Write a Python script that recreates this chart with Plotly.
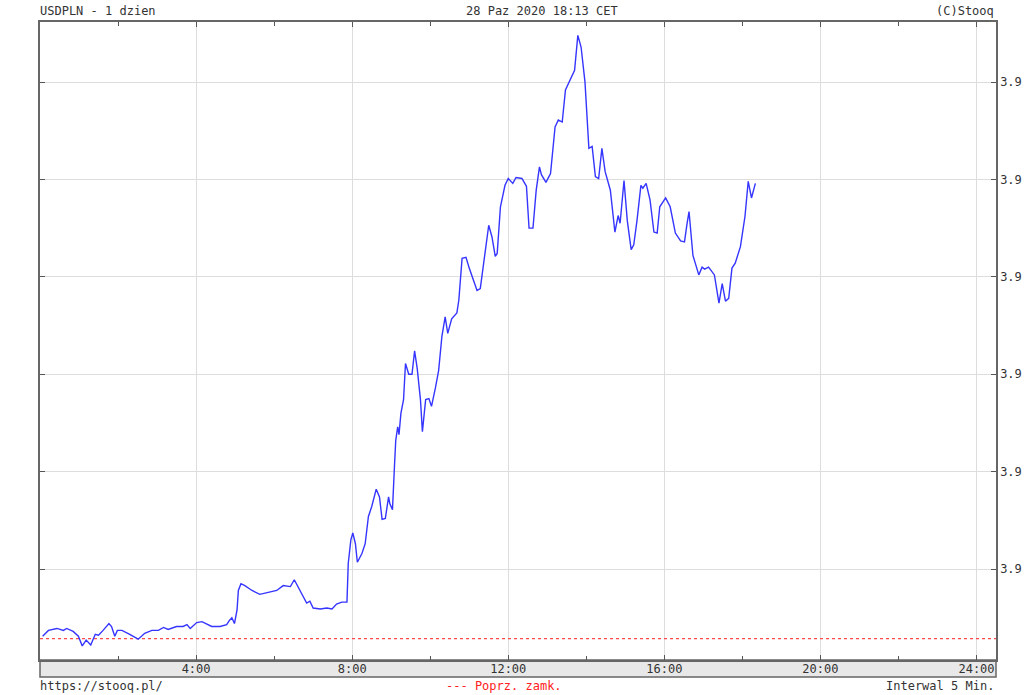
import plotly.graph_objects as go

# ---- data ----
times = ["0:04","0:13","0:26","0:36","0:41","0:51","0:59","1:05","1:11","1:18",
         "1:25","1:30","1:37","1:46","1:50","1:55","1:59","2:06","2:18","2:31",
         "2:41","2:52","3:02","3:10","3:17","3:30","3:40","3:46","3:51","4:01",
         "4:09","4:16","4:24","4:37","4:47","4:51","4:55","4:59","5:03","5:05",
         "5:09","5:15","5:26","5:38","5:49","6:04","6:14","6:25","6:31","6:40",
         "6:50","6:55","7:00","7:11","7:21","7:29","7:36","7:44","7:52","7:54",
         "7:58","8:01","8:05","8:08","8:15","8:20","8:25","8:30","8:37","8:42",
         "8:46","8:51","8:56","8:58","9:02","9:05","9:07","9:10","9:12","9:15",
         "9:19","9:22","9:27","9:32","9:36","9:40","9:45","9:48","9:53","9:58",
         "10:02","10:08","10:13","10:18","10:23","10:27","10:33","10:41","10:44","10:49",
         "10:55","11:00","11:08","11:12","11:17","11:25","11:30","11:35","11:40","11:43",
         "11:48","11:55","12:00","12:07","12:12","12:21","12:28","12:32","12:38","12:43",
         "12:48","12:51","12:58","13:05","13:12","13:17","13:23","13:28","13:34","13:42",
         "13:47","13:52","13:58","14:04","14:09","14:14","14:19","14:24","14:29","14:37",
         "14:44","14:49","14:52","14:58","15:03","15:09","15:13","15:18","15:24","15:27",
         "15:32","15:38","15:44","15:49","15:53","16:02","16:09","16:17","16:25","16:31",
         "16:35","16:38","16:44","16:53","16:58","17:02","17:08","17:17","17:24","17:29",
         "17:34","17:39","17:44","17:49","17:57","18:04","18:09","18:14","18:20"]

prices = [3.9131,3.9137,3.9139,3.9137,3.9139,3.9136,3.9131,3.9121,3.9127,3.9122,
          3.9133,3.9132,3.9137,3.9144,3.9141,3.9131,3.9137,3.9137,3.9133,3.9128,
          3.9134,3.9137,3.9137,3.9140,3.9138,3.9141,3.9141,3.9143,3.9139,3.9145,
          3.9146,3.9144,3.9141,3.9141,3.9143,3.9147,3.9150,3.9144,3.9158,3.9178,
          3.9185,3.9183,3.9178,3.9174,3.9176,3.9178,3.9183,3.9182,3.9189,3.9177,
          3.9165,3.9167,3.9160,3.9159,3.9160,3.9159,3.9164,3.9166,3.9166,3.9206,
          3.9230,3.9237,3.9226,3.9207,3.9216,3.9226,3.9254,3.9264,3.9282,3.9274,
          3.9251,3.9252,3.9274,3.9267,3.9261,3.9305,3.9332,3.9346,3.9338,3.9360,
          3.9374,3.9411,3.9400,3.9400,3.9424,3.9406,3.9374,3.9341,3.9374,3.9375,
          3.9367,3.9386,3.9404,3.9439,3.9459,3.9442,3.9457,3.9463,3.9476,3.9519,
          3.9520,3.9509,3.9492,3.9486,3.9488,3.9531,3.9553,3.9541,3.9521,3.9524,
          3.9572,3.9594,3.9601,3.9596,3.9602,3.9601,3.9593,3.9550,3.9550,3.9589,
          3.9613,3.9605,3.9597,3.9606,3.9654,3.9661,3.9659,3.9692,3.9700,3.9712,
          3.9748,3.9736,3.9700,3.9632,3.9634,3.9603,3.9601,3.9632,3.9608,3.9589,
          3.9546,3.9563,3.9555,3.9599,3.9558,3.9528,3.9533,3.9558,3.9594,3.9591,
          3.9596,3.9579,3.9546,3.9545,3.9572,3.9581,3.9572,3.9545,3.9537,3.9536,
          3.9555,3.9567,3.9522,3.9502,3.9510,3.9508,3.9510,3.9502,3.9473,3.9493,
          3.9475,3.9478,3.9509,3.9514,3.9531,3.9562,3.9598,3.9581,3.9596]

prev_close = 3.91286
y_ticks = [3.92, 3.93, 3.94, 3.95, 3.96, 3.97]
y_tick_labels = ["3.9"] * len(y_ticks)
x_major = [4, 8, 12, 16, 20, 24]
x_major_labels = ["4:00", "8:00", "12:00", "16:00", "20:00", "24:00"]
x_minor = [2, 6, 10, 14, 18, 22]
x_range = [0, 24.5]
y_range = [3.91066, 3.97617]

title_left = "USDPLN - 1 dzien"
title_center = "28 Paz 2020 18:13 CET"
title_right = "(C)Stooq"
foot_left = "https://stooq.pl/"
foot_center = "--- Poprz. zamk."
foot_right = "Interwal 5 Min."

def to_hours(t):
    h, m = t.split(":")
    return int(h) + int(m) / 60.0

hours = [to_hours(t) for t in times]

FONT = "DejaVu Sans Mono"
TXT = "#333333"

W, H = 1024, 695
plot_l, plot_r, plot_t, plot_b = 40, 996, 22, 660   # page pixels
ml, mt, mr, mb = plot_l, plot_t, W - plot_r, H - plot_b
ph = plot_b - plot_t
pw = plot_r - plot_l
band = 17 / ph

def ypaper(px):
    return (plot_b - px) / ph

def xpaper(px):
    return (px - plot_l) / pw

fig = go.Figure()
fig.add_trace(go.Scatter(x=x_range, y=[prev_close, prev_close], mode="lines",
                         line=dict(color="#ff4a4a", width=1.3, dash="3px,3px"),
                         hoverinfo="skip", showlegend=False))
fig.add_trace(go.Scatter(x=hours, y=prices, mode="lines",
                         line=dict(color="#3535ff", width=1.4),
                         showlegend=False))

fig.update_layout(
    width=W, height=H,
    margin=dict(l=ml, r=mr, t=mt, b=mb, pad=0, autoexpand=False),
    paper_bgcolor="white", plot_bgcolor="white",
    showlegend=False,
    font=dict(family=FONT, size=12, color=TXT),
    xaxis=dict(range=x_range, tickmode="array", tickvals=x_major, ticktext=x_major_labels,
               ticks="inside", ticklen=5, tickcolor="#555", tickwidth=1,
               showgrid=True, gridcolor="#dddddd", gridwidth=1,
               showline=True, linecolor="#666", linewidth=1.5, mirror="ticks",
               zeroline=False, tickfont=dict(family=FONT, size=12, color=TXT),
               ticklabelstandoff=-3,
               minor=dict(tickvals=x_minor, ticks="inside", ticklen=4,
                          tickcolor="#555", showgrid=False),
               automargin=False, fixedrange=True),
    yaxis=dict(range=y_range, side="right", tickmode="array", tickvals=y_ticks,
               ticktext=y_tick_labels, ticks="inside", ticklen=5, tickcolor="#555",
               showgrid=True, gridcolor="#dddddd", gridwidth=1,
               showline=True, linecolor="#666", linewidth=1.5, mirror="ticks",
               zeroline=False, tickfont=dict(family=FONT, size=12, color=TXT),
               automargin=False, fixedrange=True),
    shapes=[dict(type="rect", xref="paper", yref="paper", x0=0, x1=1, y0=-band, y1=0,
                 fillcolor="#e8e8e8", line=dict(color="#666", width=1.5), layer="below")],
)

ann = [
    (title_left, 0, ypaper(11), "left", TXT, -2),
    (title_center, xpaper(541.5), ypaper(11), "center", TXT, 0),
    (title_right, 1, ypaper(11), "right", TXT, 0),
    (foot_left, 0, ypaper(686), "left", TXT, -2),
    (foot_center, xpaper(504), ypaper(686), "center", "#ff2020", 0),
    (foot_right, 1, ypaper(686), "right", TXT, 0),
]
for text, x, y, anchor, col, xs in ann:
    fig.add_annotation(text=text, x=x, y=y, xref="paper", yref="paper",
                       xanchor=anchor, yanchor="middle", showarrow=False, xshift=xs,
                       font=dict(family=FONT, size=12, color=col))

# remove the default 8px body margin so the 1024x695 figure fills the window exactly
fig.write_html("out.html",
               config={"displayModeBar": False, "staticPlot": False},
               post_script="document.body.style.margin='0';document.body.style.overflow='hidden';")
